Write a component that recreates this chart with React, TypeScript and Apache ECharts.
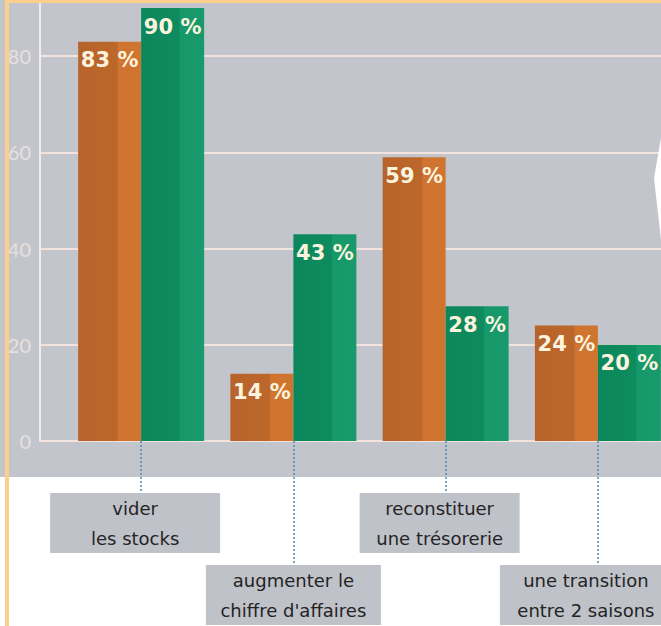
import { useEffect, useRef } from "react";
import * as echarts from "echarts";

// ---- data ----
const categories = [
  "vider\nles stocks",
  "augmenter le\nchiffre d'affaires",
  "reconstituer\nune trésorerie",
  "une transition\nentre 2 saisons",
];
const seriesA = [83, 14, 59, 24]; // orange
const seriesB = [90, 43, 28, 20]; // green
const yMin = 0;
const yMax = 100;
const yStep = 20;

const FONT = "Lato, 'Open Sans', sans-serif";
const WIDE = "'DejaVu Sans', sans-serif";

const orangeFill = {
  type: "linear", x: 0, y: 0, x2: 1, y2: 0,
  colorStops: [
    { offset: 0, color: "#b7632a" },
    { offset: 0.62, color: "#bc672b" },
    { offset: 0.64, color: "#d0742f" },
    { offset: 1, color: "#cf7530" },
  ],
};
const greenFill = {
  type: "linear", x: 0, y: 0, x2: 1, y2: 0,
  colorStops: [
    { offset: 0, color: "#0c875c" },
    { offset: 0.6, color: "#0e8b5f" },
    { offset: 0.62, color: "#17986a" },
    { offset: 1, color: "#189a6c" },
  ],
};

const boxWidths = [170, 175, 160, 172];
const boxShift = [6, 0, 6, 12]; // leftward shift of each label box
const rich: Record<string, any> = {};
boxWidths.forEach((w, i) => {
  rich["b" + i] = {
    width: w,
    height: 30,
    lineHeight: 30,
    align: "center",
    verticalAlign: "middle",
    backgroundColor: "#bfc2c8",
    color: "#242424",
    fontSize: 18,
    fontFamily: WIDE,
  };
  rich["s" + i] = { width: boxShift[i] * 2, height: 30, lineHeight: 30 };
});
const fmtLabel = (value: string, index: number) =>
  value
    .split("\n")
    .map((l) => `{b${index}|${l}}` + (boxShift[index] ? `{s${index}|}` : ""))
    .join("\n");

const tickStyle = { color: "#4d86b6", type: [2, 2], width: 1.5 };

const barLabel = {
  show: true,
  position: "insideTop",
  distance: 8,
  formatter: "{c} %",
  color: "#fbf3de",
  fontSize: 21,
  fontWeight: "bold",
  fontFamily: WIDE,
};

export default function App() {
  const ref = useRef<HTMLDivElement>(null);
  useEffect(() => {
    if (!ref.current) return;
    const chart = echarts.init(ref.current, undefined, { renderer: "svg" });
    chart.setOption({
      animation: false,
      grid: [
        { left: 40, right: 0, top: -40, height: 481, outerBoundsMode: "none", containLabel: false },
        { left: 65, width: 609, top: -40, height: 481, outerBoundsMode: "none", containLabel: false },
      ],
      xAxis: [
        { gridIndex: 0, type: "category", data: categories, show: false },
        {
          gridIndex: 1,
          type: "category",
          data: categories,
          position: "bottom",
          axisLine: { show: false },
          axisTick: {
            show: true,
            alignWithLabel: true,
            interval: (i: number) => i % 2 === 0,
            length: 52,
            lineStyle: tickStyle,
          },
          axisLabel: {
            interval: (i: number) => i % 2 === 0,
            margin: 52,
            formatter: fmtLabel,
            rich,
          },
        },
        {
          gridIndex: 1,
          type: "category",
          data: categories,
          position: "bottom",
          offset: 0,
          axisLine: { show: false },
          axisTick: {
            show: true,
            alignWithLabel: true,
            interval: (i: number) => i % 2 === 1,
            length: 124,
            lineStyle: tickStyle,
          },
          axisLabel: {
            interval: (i: number) => i % 2 === 1,
            margin: 124,
            formatter: fmtLabel,
            rich,
          },
        },
      ],
      yAxis: [
        {
          gridIndex: 0,
          type: "value",
          min: yMin,
          max: yMax,
          interval: yStep,
          axisLine: { show: true, lineStyle: { color: "#f4ebe8", width: 2 } },
          axisTick: { show: false },
          splitLine: { show: true, lineStyle: { color: "#f2e3de", width: 2 } },
          axisLabel: {
            margin: 9,
            color: "#e8e0df",
            fontSize: 20,
            fontFamily: FONT,
            formatter: (v: number) => (v >= yMax ? "" : String(v)),
          },
        },
        {
          gridIndex: 1,
          type: "value",
          min: yMin,
          max: yMax,
          interval: yStep,
          show: false,
          splitLine: { show: false },
        },
      ],
      series: [
        {
          name: "Série A",
          type: "bar",
          xAxisIndex: 1,
          yAxisIndex: 1,
          data: seriesA,
          barWidth: 63,
          barGap: "0%",
          itemStyle: { color: orangeFill },
          label: barLabel,
        },
        {
          name: "Série B",
          type: "bar",
          xAxisIndex: 1,
          yAxisIndex: 1,
          data: seriesB,
          barWidth: 63,
          barGap: "0%",
          itemStyle: { color: greenFill },
          label: barLabel,
        },
      ],
      graphic: [
        {
          type: "polygon",
          z: 100,
          shape: { points: [[661, 138], [654, 178], [661, 240]] },
          style: { fill: "#ffffff" },
        },
        {
          type: "rect",
          z: 100,
          shape: { x: 5, y: 0, width: 656, height: 3 },
          style: { fill: "#fccf8c" },
        },
        {
          type: "rect",
          z: 100,
          shape: { x: 5, y: 0, width: 4, height: 626 },
          style: { fill: "#fccf8c" },
        },
      ],
    });
    return () => chart.dispose();
  }, []);
  return (
    <div
      ref={ref}
      style={{
        position: "fixed",
        left: 0,
        top: 0,
        width: 661,
        height: 626,
        background: "linear-gradient(to bottom, #c2c5cb 0px, #c2c5cb 477px, #ffffff 477px, #ffffff 626px)",
      }}
    />
  );
}
